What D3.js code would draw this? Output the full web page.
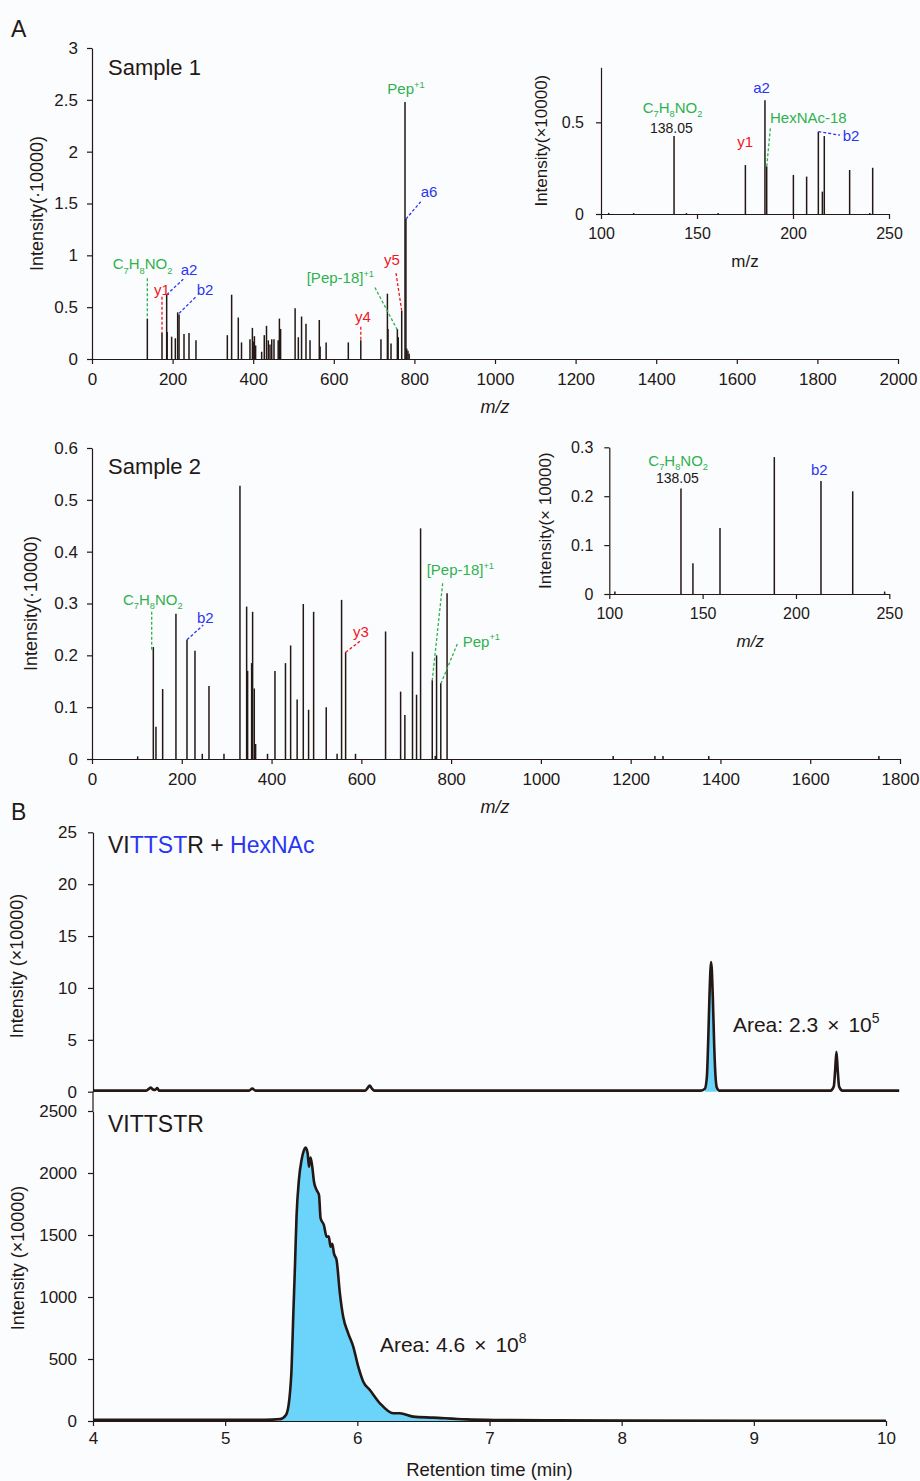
<!DOCTYPE html>
<html><head><meta charset="utf-8">
<script src="https://cdn.jsdelivr.net/npm/d3@7/dist/d3.min.js"></script>
<style>
body{margin:0;background:#fbfcfe}
svg{display:block}
text{font-family:"Liberation Sans",Arial,Helvetica,sans-serif}
</style>
</head><body>
<svg id="c" width="920" height="1481"></svg>
<script>
// ===== DATA =====
// Panel A, Sample 1 spectrum: [m/z, intensity (x10000)]
const s1Peaks = [
 [137.3,0.39],[173.7,0.25],[185.3,0.62],[186.5,0.26],[197.6,0.215],[206.8,0.2],[212.6,0.45],[216,0.43],
 [228.3,0.24],[240.7,0.25],[258,0.18],[335.8,0.23],[346.5,0.62],[363,0.40],[371,0.16],[392,0.19],
 [398,0.30],[400,0.17],[403,0.22],[406,0.13],[421,0.07],[427.5,0.23],[433,0.32],[437.5,0.18],
 [441.7,0.14],[446,0.19],[451.6,0.19],[462,0.18],[465,0.39],[468,0.29],[504,0.49],[512,0.21],
 [520,0.41],[531,0.34],[541,0.18],[564,0.376],[566,0.12],[581,0.16],[636,0.16],[667,0.18],
 [717,0.19],[733,0.63],[734.5,0.29],[742,0.15],[757.7,0.29],[760,0.21],[768.5,0.466],[776.7,2.48],
 [779,1.35],[781,0.1],[784,0.08],[787,0.05]
];
// Sample 1 inset (m/z 100-250)
const s1InsetPeaks = [
 [104,0.006],[117,0.005],[138.05,0.425],[144.5,0.005],[161,0.005],[175.2,0.267],[185.4,0.62],[186.3,0.26],
 [200.2,0.213],[207.1,0.204],[213.2,0.449],[215.3,0.122],[216.3,0.425],[229.5,0.24],[240,0.006],[241.5,0.252]
];
// Sample 2 spectrum
const s2Peaks = [
 [101.7,0.005],[136.6,0.216],[142.5,0.062],[157.4,0.135],[187,0.28],[211.6,0.23],[229.4,0.209],[245.7,0.01],
 [260.6,0.141],[294,0.01],[329.6,0.527],[344.5,0.294],[346.7,0.17],[355.6,0.185],[357.8,0.284],[361.5,0.136],
 [364.5,0.029],[391,0.01],[407.6,0.17],[431,0.185],[442.5,0.219],[457,0.115],[470.7,0.299],[482.5,0.095],
 [493.7,0.284],[521.8,0.1],[546,0.01],[556,0.307],[565,0.206],[587,0.01],[654,0.246],[687.5,0.13],
 [697,0.085],[714,0.207],[723,0.124],[732,0.445],[758,0.152],[764.7,0.006],[767.6,0.2],[777,0.146],
 [791,0.32],[1161,0.006],[1254,0.006],[1272,0.006],[1374,0.006],[1753,0.006]
];
// Sample 2 inset
const s2InsetPeaks = [
 [103,0.005],[138.4,0.216],[144.8,0.063],[159.3,0.135],[188.4,0.28],[213.4,0.231],[230.4,0.21],[247.5,0.005]
];
// Panel B chromatograms: [retention time (min), intensity (x10000)]
const glycoXIC = [
 [4.0,0.1],[4.40,0.1],[4.42,0.25],[4.437,0.4],[4.455,0.2],[4.47,0.18],[4.486,0.35],[4.50,0.1],
 [5.18,0.1],[5.205,0.3],[5.23,0.1],[6.06,0.1],[6.08,0.4],[6.093,0.6],[6.11,0.3],[6.13,0.1],
 [8.60,0.1],[8.63,0.3],[8.645,1.5],[8.655,5.0],[8.665,9.5],[8.677,12.5],[8.69,9.0],[8.70,4.5],
 [8.71,1.5],[8.72,0.4],[8.74,0.1],[9.58,0.1],[9.605,0.5],[9.615,2.0],[9.625,3.85],[9.635,2.0],
 [9.645,0.5],[9.67,0.1],[10.1,0.1]
];
const pepXIC = [
 [4.0,10],[5.3,10],[5.415,15],[5.46,48],[5.485,170],[5.503,440],[5.515,840],[5.528,1245],[5.54,1650],
 [5.558,1945],[5.578,2105],[5.595,2180],[5.609,2205],[5.624,2160],[5.634,2050],[5.646,2125],[5.659,2050],
 [5.672,1930],[5.692,1863],[5.71,1823],[5.722,1635],[5.747,1580],[5.768,1486],[5.783,1490],[5.798,1405],
 [5.81,1430],[5.823,1352],[5.843,1298],[5.868,1030],[5.893,840],[5.931,707],[5.969,600],[6.007,438],
 [6.045,317],[6.095,250],[6.171,143],[6.272,62],[6.322,62],[6.423,35],[6.574,27],[6.827,13],[7.08,8],
 [7.5,5],[8.0,3],[10.0,2]
];
// Tick values
const s1XTicks = [0,200,400,600,800,1000,1200,1400,1600,1800,2000];
const s1YTicks = [0,0.5,1,1.5,2,2.5,3];
const s2XTicks = [0,200,400,600,800,1000,1200,1400,1600,1800];
const s2YTicks = [0,0.1,0.2,0.3,0.4,0.5,0.6];
const insetXTicks = [100,150,200,250];
const in1YTicks = [0,0.5];
const in2YTicks = [0,0.1,0.2,0.3];
const rtTicks = [4,5,6,7,8,9,10];
const topYTicks = [0,5,10,15,20,25];
const botYTicks = [0,500,1000,1500,2000,2500];

// ===== STYLE =====
const INK='#231815', GREEN='#2fb14d', RED='#f0181e', BLUE='#2a36f2', FILL='#6cd4fa';
const FORM = [['C'],['7','sub'],['H'],['8','sub'],['NO'],['2','sub']];

// Annotations (positions in data units)
const s1Labels = [
 {p:FORM, m:51.4, v:0.865, c:GREEN},
 {p:[['y1']], m:153.8, v:0.617, c:RED},
 {p:[['a2']], m:220, v:0.81, c:BLUE},
 {p:[['b2']], m:259.8, v:0.617, c:BLUE},
 {p:[['[Pep-18]'],['+1','sup']], m:532.8, v:0.73, c:GREEN},
 {p:[['y4']], m:652.6, v:0.36, c:RED},
 {p:[['y5']], m:724.6, v:0.907, c:RED},
 {p:[['Pep'],['+1','sup']], m:732.8, v:2.556, c:GREEN},
 {p:[['a6']], m:815.6, v:1.566, c:BLUE}
];
const s1Leaders = [
 [137.3,0.778,137.3,0.395,GREEN],[173.7,0.60,173.7,0.25,RED],[185.3,0.62,226.5,0.77,BLUE],
 [216,0.44,258,0.6,BLUE],[702,0.69,757.7,0.28,GREEN],[667,0.31,667,0.18,RED],
 [754.4,0.828,768.5,0.466,RED],[779,1.35,815.6,1.517,BLUE]
];
const in1Labels = [
 {p:FORM, m:121.7, v:0.552, c:GREEN, fs:15},
 {p:[['138.05']], m:125.5, v:0.443, c:INK, fs:14},
 {p:[['y1']], m:171, v:0.367, c:RED, fs:15},
 {p:[['a2']], m:179.3, v:0.661, c:BLUE, fs:15},
 {p:[['HexNAc-18']], m:188, v:0.498, c:GREEN, fs:15},
 {p:[['b2']], m:225.9, v:0.4, c:BLUE, fs:15}
];
const in1Leaders = [[188.2,0.467,186.3,0.258,GREEN],[213.2,0.449,224.5,0.43,BLUE]];
const s2Labels = [
 {p:FORM, m:69, v:0.297, c:GREEN},
 {p:[['b2']], m:233.9, v:0.263, c:BLUE},
 {p:[['y3']], m:581.4, v:0.236, c:RED},
 {p:[['[Pep-18]'],['+1','sup']], m:745.6, v:0.355, c:GREEN},
 {p:[['Pep'],['+1','sup']], m:825.8, v:0.217, c:GREEN}
];
const s2Leaders = [
 [133,0.284,133,0.21,GREEN],[211.6,0.23,247.9,0.2585,BLUE],[565,0.206,600.8,0.2296,RED],
 [781.2,0.339,758,0.152,GREEN],[813.8,0.222,777.5,0.146,GREEN]
];
const in2Labels = [
 {p:FORM, m:120.9, v:0.262, c:GREEN, fs:15},
 {p:[['138.05']], m:125, v:0.228, c:INK, fs:14},
 {p:[['b2']], m:208, v:0.243, c:BLUE, fs:15}
];

// ===== DRAW =====
const svg = d3.select('#c');

function rich(g, x, y, parts, fs, color){
  const t = g.append('text').attr('x',x).attr('y',y).attr('font-size',fs).attr('fill',color);
  let off = 0;
  parts.forEach(([s,k])=>{
    let target = k==='sub' ? fs*0.28 : k==='sup' ? -fs*0.42 : 0;
    const sp = t.append('tspan').text(s).attr('dy', target-off);
    if(k) sp.attr('font-size', fs*0.62);
    off = target;
  });
  return t;
}

function styleAxis(g, fs){
  g.attr('font-family',null).attr('font-size',fs);
  g.selectAll('path,line').attr('stroke',INK).attr('stroke-width',1.2);
  g.selectAll('text').attr('fill',INK);
}

function spectrum(cfg){
  const g = svg.append('g');
  const x = d3.scaleLinear().domain(cfg.xd).range(cfg.xr);
  const y = d3.scaleLinear().domain(cfg.yd).range(cfg.yr);
  g.append('g').attr('transform',`translate(0,${cfg.yr[0]})`)
    .call(d3.axisBottom(x).tickValues(cfg.xt).tickFormat(d3.format('d')).tickSize(5).tickSizeOuter(0).tickPadding(cfg.xpad))
    .call(a=>styleAxis(a,cfg.fs));
  g.append('g').attr('transform',`translate(${cfg.xr[0]},0)`)
    .call(d3.axisLeft(y).tickValues(cfg.yt).tickFormat(d3.format('~g')).tickSize(5).tickSizeOuter(0).tickPadding(cfg.ypad))
    .call(a=>styleAxis(a,cfg.fs));
  g.append('g').selectAll('line').data(cfg.peaks).join('line')
    .attr('x1',d=>x(d[0])).attr('x2',d=>x(d[0]))
    .attr('y1',y(0)).attr('y2',d=>y(d[1]))
    .attr('stroke',INK).attr('stroke-width',1.5);
  (cfg.leaders||[]).forEach(l=>{
    g.append('line').attr('x1',x(l[0])).attr('y1',y(l[1])).attr('x2',x(l[2])).attr('y2',y(l[3]))
     .attr('stroke',l[4]).attr('stroke-width',1.3).attr('stroke-dasharray','3,2');
  });
  (cfg.labels||[]).forEach(l=> rich(g, x(l.m), y(l.v), l.p, l.fs||15, l.c));
  // axis titles
  g.append('text').attr('transform',`translate(${cfg.xr[0]+cfg.ytx},${(cfg.yr[0]+cfg.yr[1])/2}) rotate(-90)`)
    .attr('text-anchor','middle').attr('font-size',cfg.tfs).attr('fill',INK).text(cfg.ytitle);
  g.append('text').attr('x',(cfg.xr[0]+cfg.xr[1])/2+cfg.xtdx).attr('y',cfg.yr[0]+cfg.xty)
    .attr('text-anchor','middle').attr('font-size',cfg.tfs).attr('fill',INK)
    .attr('font-style',cfg.italic?'italic':null).text('m/z');
  return {g,x,y};
}

// Sample 1
const P1 = spectrum({xd:[0,2000], xr:[92,898], yd:[0,3], yr:[359,48], xt:s1XTicks, yt:s1YTicks,
  peaks:s1Peaks, leaders:s1Leaders, labels:s1Labels, fs:17, xpad:9, ypad:9, tfs:18,
  ytitle:'Intensity(·10000)', ytx:-49, xtdx:0, xty:54, italic:true});
P1.g.append('text').attr('x',P1.x(0)+16).attr('y',P1.y(3)+27).attr('font-size',22).attr('fill',INK).text('Sample 1');
// Inset 1
spectrum({xd:[100,250], xr:[601,889], yd:[0,0.8], yr:[214,67.3], xt:insetXTicks, yt:in1YTicks,
  peaks:s1InsetPeaks, leaders:in1Leaders, labels:in1Labels, fs:16, xpad:9, ypad:12, tfs:17,
  ytitle:'Intensity(×10000)', ytx:-54, xtdx:0, xty:53, italic:false});
// Sample 2
const P2 = spectrum({xd:[0,1800], xr:[92,900], yd:[0,0.6], yr:[759,448], xt:s2XTicks, yt:s2YTicks,
  peaks:s2Peaks, leaders:s2Leaders, labels:s2Labels, fs:17, xpad:9, ypad:9, tfs:18,
  ytitle:'Intensity(·10000)', ytx:-55, xtdx:-1, xty:54, italic:true});
P2.g.append('text').attr('x',P2.x(0)+16).attr('y',P2.y(0.6)+26).attr('font-size',22).attr('fill',INK).text('Sample 2');
// Inset 2
spectrum({xd:[100,250], xr:[609.3,889.3], yd:[0,0.3], yr:[594,447.3], xt:insetXTicks, yt:in2YTicks,
  peaks:s2InsetPeaks, leaders:[], labels:in2Labels, fs:16, xpad:9, ypad:11, tfs:17,
  ytitle:'Intensity(× 10000)', ytx:-58, xtdx:1, xty:53, italic:true});

// Panel letters
svg.append('text').attr('x',11).attr('y',37).attr('font-size',23).attr('fill',INK).text('A');
svg.append('text').attr('x',11).attr('y',820).attr('font-size',23).attr('fill',INK).text('B');

// ===== Panel B =====
const xB = d3.scaleLinear().domain([4,10]).range([93,886]);
const yT = d3.scaleLinear().domain([0,25]).range([1091.7,832.3]);
const yBt = d3.scaleLinear().domain([0,2500]).range([1421,1111]);
const gB = svg.append('g');

// bottom y-axis line extended up to top panel baseline
gB.append('line').attr('x1',xB(4)).attr('x2',xB(4)).attr('y1',yBt(2500)).attr('y2',yT(0))
  .attr('stroke',INK).attr('stroke-width',1.2);

gB.append('g').attr('transform',`translate(0,${yBt(0)})`)
  .call(d3.axisBottom(xB).tickValues(rtTicks).tickFormat(d3.format('d')).tickSize(5).tickSizeOuter(0).tickPadding(6))
  .call(a=>styleAxis(a,17));
gB.append('g').attr('transform',`translate(${xB(4)},0)`)
  .call(d3.axisLeft(yBt).tickValues(botYTicks).tickFormat(d3.format('d')).tickSize(5).tickSizeOuter(0).tickPadding(11))
  .call(a=>styleAxis(a,17));
gB.append('g').attr('transform',`translate(${xB(4)},0)`)
  .call(d3.axisLeft(yT).tickValues(topYTicks).tickFormat(d3.format('d')).tickSize(5).tickSizeOuter(0).tickPadding(11))
  .call(a=>styleAxis(a,17));

// fills
const areaTop = d3.area().x(d=>xB(d[0])).y0(yT(0)).y1(d=>yT(d[1])).curve(d3.curveMonotoneX);
gB.append('path').datum(glycoXIC.filter(d=>d[0]>=8.62&&d[0]<=8.73)).attr('d',areaTop).attr('fill',FILL);
const areaBot = d3.area().x(d=>xB(d[0])).y0(yBt(0)).y1(d=>yBt(d[1])).curve(d3.curveMonotoneX);
gB.append('path').datum(pepXIC.filter(d=>d[0]>=5.38&&d[0]<=7.2)).attr('d',areaBot).attr('fill',FILL);
// lines
gB.append('path').datum(glycoXIC).attr('fill','none').attr('stroke',INK).attr('stroke-width',2.6)
  .attr('stroke-linejoin','round')
  .attr('d',d3.line().x(d=>xB(d[0])).y(d=>yT(d[1])).curve(d3.curveMonotoneX));
gB.append('path').datum(pepXIC).attr('fill','none').attr('stroke',INK).attr('stroke-width',2.6)
  .attr('stroke-linejoin','round')
  .attr('d',d3.line().x(d=>xB(d[0])).y(d=>yBt(d[1])).curve(d3.curveMonotoneX));

// titles
const t1 = gB.append('text').attr('x',xB(4)+15).attr('y',yT(25)+21).attr('font-size',23).attr('fill',INK);
[['VI',INK],['TTST',BLUE],['R + ',INK],['HexNAc',BLUE]].forEach(([s,c])=>t1.append('tspan').attr('fill',c).text(s));
t1.attr('xml:space','preserve');
gB.append('text').attr('x',xB(4)+15).attr('y',yBt(2500)+21).attr('font-size',23).attr('fill',INK).text('VITTSTR');

function areaLabel(x,y,mant,exp){
  const t = gB.append('text').attr('x',x).attr('y',y).attr('font-size',21).attr('fill',INK);
  t.append('tspan').text('Area: '+mant);
  t.append('tspan').attr('dx',9).text('×');
  t.append('tspan').attr('dx',9).text('10');
  t.append('tspan').attr('dy',-9).attr('font-size',14).text(exp);
}
areaLabel(xB(8.842), yT(5.75), '2.3', '5');
areaLabel(xB(6.171), yBt(556), '4.6', '8');

gB.append('text').attr('transform',`translate(${xB(4)-70},${(yT(0)+yT(25))/2+4}) rotate(-90)`)
  .attr('text-anchor','middle').attr('font-size',18).attr('fill',INK).text('Intensity (×10000)');
gB.append('text').attr('transform',`translate(${xB(4)-69},${(yBt(0)+yBt(2500))/2-8}) rotate(-90)`)
  .attr('text-anchor','middle').attr('font-size',18).attr('fill',INK).text('Intensity (×10000)');
gB.append('text').attr('x',(xB(4)+xB(10))/2).attr('y',yBt(0)+55).attr('text-anchor','middle')
  .attr('font-size',18.5).attr('fill',INK).text('Retention time (min)');
</script>
</body></html>
